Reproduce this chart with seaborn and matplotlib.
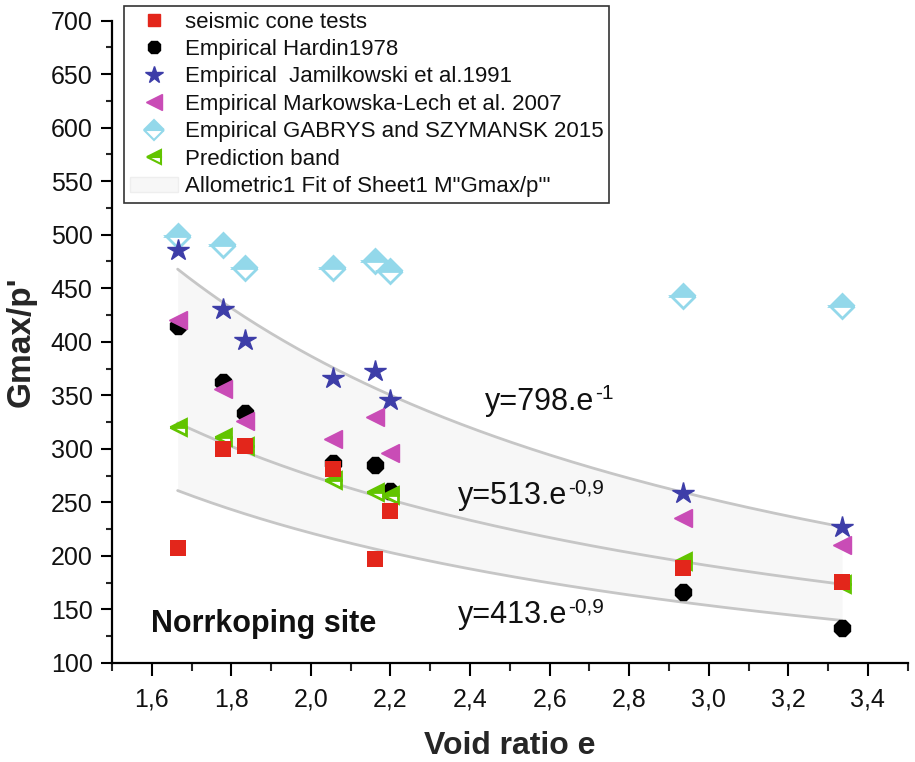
import numpy as np
import pandas as pd
import matplotlib
matplotlib.use("Agg")
import matplotlib.pyplot as plt
import seaborn as sns
from matplotlib.lines import Line2D
from matplotlib.patches import Patch

# ---------------- data ----------------
void_ratio = [1.665, 1.78, 1.835, 2.055, 2.16, 2.20, 2.935, 3.335]
seismic_cone = [207, 300, 303, 281, 197, 242, 189, 176]
hardin_1978 = [415, 362, 333, 287, 285, 261, 166, 133]
jamilkowski_1991 = [486, 431, 402, 366, 373, 346, 259, 227]
markowska_2007 = [420, 356, 326, 309, 330, 296, 235, 210]
gabrys_2015 = [499, 490, 469, 469, 475, 466, 443, 433]
prediction_band = [320, 311, 303, 271, 260, 257, 195, 174]

# allometric fits  y = a * e^b  (upper, fit, lower)
fit_a = [795, 513, 413]
fit_b = [-1.04, -0.9, -0.9]
fit_range = [1.665, 3.335]
fit_base_texts = ["y=798.e", "y=513.e", "y=413.e"]
fit_sup_texts = ["-1", "-0,9", "-0,9"]
fit_text_pos = [(2.437, 336), (2.369, 248), (2.369, 137)]

x_ticks = [1.6, 1.8, 2.0, 2.2, 2.4, 2.6, 2.8, 3.0, 3.2, 3.4]
x_tick_labels = ["1,6", "1,8", "2,0", "2,2", "2,4", "2,6", "2,8", "3,0", "3,2", "3,4"]
y_ticks = [100, 150, 200, 250, 300, 350, 400, 450, 500, 550, 600, 650, 700]

legend_labels = ["seismic cone tests", "Empirical Hardin1978",
                 "Empirical  Jamilkowski et al.1991",
                 "Empirical Markowska-Lech et al. 2007",
                 "Empirical GABRYS and SZYMANSK 2015",
                 "Prediction band",
                 "Allometric1 Fit of Sheet1 M\"Gmax/p'\""]

# ---------------- style ----------------
sns.set_theme(style="ticks")
plt.rcParams["font.family"] = ["Liberation Sans", "DejaVu Sans"]

RED = "#e3261b"
BLUE = "#3d3da8"
MAGENTA = "#c94cb6"
LIGHTBLUE = "#93d8ea"
GREEN = "#62c400"
CURVE = "#c6c6c6"
BAND = "#f7f7f7"

fig = plt.figure(figsize=(9.15, 7.62), dpi=100)
ax = fig.add_axes([0.1224, 0.130, 0.8696, 0.843])

# band and curves
e_curve = np.linspace(fit_range[0], fit_range[1], 200)
curves = [fit_a[i] * e_curve ** fit_b[i] for i in range(3)]
ax.fill_between(e_curve, curves[2], curves[0], color=BAND, zorder=1, lw=0)
for c in curves:
    sns.lineplot(x=e_curve, y=c, ax=ax, color=CURVE, lw=2, zorder=2)


def scat(y, **kw):
    ax.plot(void_ratio, y, linestyle="none", **kw)


scat(gabrys_2015, marker="D", markersize=12, color=LIGHTBLUE, fillstyle="top",
     markerfacecoloralt="white", markeredgecolor=LIGHTBLUE, markeredgewidth=2, zorder=3)
scat(hardin_1978, marker="8", markersize=12, color="black", zorder=3)
scat(jamilkowski_1991, marker="*", markersize=16, color=BLUE, zorder=3)
scat(markowska_2007, marker="<", markersize=13, color=MAGENTA, zorder=4)
scat(prediction_band, marker="<", markersize=12, color=GREEN, fillstyle="top",
     markerfacecoloralt="white", markeredgecolor=GREEN, markeredgewidth=2, zorder=5)
sns.scatterplot(x=void_ratio, y=seismic_cone, ax=ax, marker="s", s=130,
                color=RED, edgecolor=RED, linewidth=0, zorder=6)

# annotations
for (tx, ty), base, sup in zip(fit_text_pos, fit_base_texts, fit_sup_texts):
    t = ax.text(tx, ty, base, fontsize=22, ha="left", va="baseline", color="#111111")
    ax.annotate(sup, xy=(1.0, 1.0), xycoords=t, xytext=(1, 2), textcoords="offset points",
                fontsize=15, ha="left", va="top", color="#111111")
ax.text(1.598, 128.6, "Norrkoping site", fontsize=22, fontweight="bold",
        ha="left", va="baseline", color="#111111")

# axes
ax.set_xlim(1.5, 3.5)
ax.set_ylim(100, 700)
ax.set_xticks(x_ticks)
ax.set_xticklabels(x_tick_labels)
ax.set_yticks(y_ticks)
ax.set_xticks(np.arange(1.5, 3.51, 0.1), minor=True)
ax.set_yticks(np.arange(100, 701, 25), minor=True)
ax.tick_params(axis="both", which="major", direction="out", width=1.5,
               labelsize=18, color="black", labelcolor="#111111")
ax.tick_params(axis="x", which="major", length=9.5, pad=8)
ax.tick_params(axis="x", which="minor", length=5.5, width=1.5, direction="out")
ax.tick_params(axis="y", which="major", length=8, pad=6)
ax.tick_params(axis="y", which="minor", length=4, width=1.5, direction="out")
for s in ["top", "right"]:
    ax.spines[s].set_visible(False)
for s in ["left", "bottom"]:
    ax.spines[s].set_linewidth(1.6)
    ax.spines[s].set_color("black")

ax.set_xlabel("Void ratio e", fontsize=23, fontweight="bold", labelpad=14)
ax.set_ylabel("Gmax/p'", fontsize=24, fontweight="bold", labelpad=10)

# legend
handles = [
    Line2D([], [], ls="none", marker="s", markersize=8, color=RED),
    Line2D([], [], ls="none", marker="8", markersize=10, color="black"),
    Line2D([], [], ls="none", marker="*", markersize=13, color=BLUE),
    Line2D([], [], ls="none", marker="<", markersize=11, color=MAGENTA),
    Line2D([], [], ls="none", marker="D", markersize=10, color=LIGHTBLUE, fillstyle="top",
           markerfacecoloralt="white", markeredgecolor=LIGHTBLUE, markeredgewidth=1.5),
    Line2D([], [], ls="none", marker="<", markersize=10, color=GREEN, fillstyle="top",
           markerfacecoloralt="white", markeredgecolor=GREEN, markeredgewidth=1.5),
    Patch(facecolor=BAND, edgecolor="#eeeeee"),
]
leg = fig.legend(handles, legend_labels, loc="upper left",
                 bbox_to_anchor=(124 / 915, 1 - 6 / 762), bbox_transform=fig.transFigure,
                 fontsize=16, frameon=True, fancybox=False, framealpha=1,
                 edgecolor="#333333", labelspacing=0.29, handlelength=2.2,
                 handletextpad=0.3, borderpad=0.25, borderaxespad=0)
leg.get_frame().set_linewidth(1.2)
for t in leg.get_texts():
    t.set_color("#111111")

fig.savefig("out.png", dpi=100)
